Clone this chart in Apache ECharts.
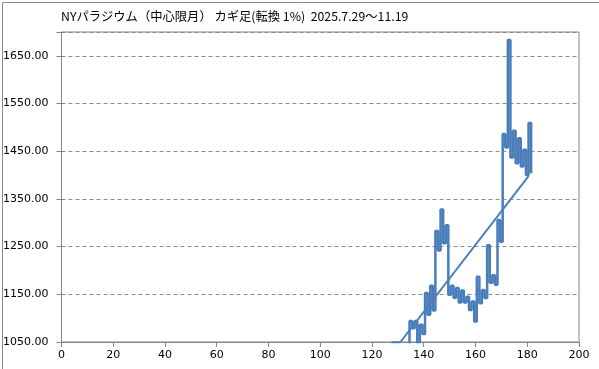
<!DOCTYPE html>
<html>
<head>
<meta charset="utf-8">
<script src="https://cdn.jsdelivr.net/npm/echarts@6/dist/echarts.min.js"></script>
<style>
html,body{margin:0;padding:0;background:#fff;}
#c{width:599px;height:369px;}
</style>
</head>
<body>
<div id="c"></div>
<script>
// Kagi chart reversal points (x position, price)
var kagiX = [127.5, 130.5, 134.5, 135.5, 136.5, 137.5, 138.5, 139.5, 140.5, 141.5, 142.5, 143.5, 144.5, 145.5, 146.5, 147.5, 148.5, 149.5,
             150.5, 151.5, 152.5, 153.5, 154.5, 155.5, 156.5, 157.5, 158.5, 159.5, 160.5, 161.5, 162.5, 163.5, 164.5, 165.5, 166.5, 167.5,
             168.5, 169.5, 170.5, 171.5, 172.5, 173.5, 174.5, 175.5, 176.5, 177.5, 178.5, 179.5, 180.5, 181.5];
var kagiY = [1049, 1030, 1094, 1079, 1094, 1045, 1086, 1067, 1153, 1107, 1168, 1116, 1283, 1242, 1328, 1257, 1295, 1149,
             1168, 1143, 1163, 1133, 1158, 1133, 1145, 1117, 1135, 1093, 1187, 1131, 1159, 1142, 1253, 1174, 1190, 1170,
             1306, 1260, 1486, 1458, 1683, 1437, 1493, 1425, 1477, 1418, 1453, 1400, 1509, 1404];
// Trend line end points
var trendX = [131, 180.5];
var trendY = [1050, 1398];
// Axes
var yTicks = [1050, 1150, 1250, 1350, 1450, 1550, 1650];
var titleText = 'NYパラジウム（中心限月） カギ足(転換 1%)  2025.7.29～11.19';

var kagiData = kagiX.map(function (x, i) { return [x, kagiY[i]]; });
var trendData = trendX.map(function (x, i) { return [x, trendY[i]]; });

var chart = echarts.init(document.getElementById('c'), null, {renderer: 'canvas'});
var axisGray = '#868686';
chart.setOption({
  animation: false,
  backgroundColor: '#ffffff',
  title: {
    text: titleText,
    left: 61,
    top: 10,
    padding: 0,
    textStyle: {fontFamily: 'Noto Sans CJK JP', fontSize: 12.3, fontWeight: 'normal', color: '#000'}
  },
  graphic: [{
    type: 'rect', left: 0, top: 0, silent: true,
    shape: {x: 0.5, y: 0.5, width: 598, height: 368},
    style: {fill: 'none', stroke: '#8a8a8a', lineWidth: 1}
  }],
  grid: {left: 59, right: 20, top: 32, bottom: 27, show: true, borderColor: axisGray, borderWidth: 1, containLabel: false},
  xAxis: {
    type: 'value', min: 0, max: 200, interval: 20,
    axisLine: {show: true, onZero: false, lineStyle: {color: axisGray, width: 1}},
    axisTick: {show: true, length: 5, lineStyle: {color: axisGray}},
    splitLine: {show: false},
    axisLabel: {fontFamily: 'DejaVu Sans', fontSize: 11, color: '#000', margin: 8}
  },
  yAxis: {
    type: 'value', min: 1050, max: 1700, interval: 100,
    axisLine: {show: true, onZero: false, lineStyle: {color: axisGray, width: 1}},
    axisTick: {show: true, length: 5, lineStyle: {color: axisGray}},
    splitLine: {show: true, lineStyle: {color: '#8c8c8c', width: 1, type: [4, 3]}},
    axisLabel: {
      fontFamily: 'DejaVu Sans', fontSize: 11, color: '#000', margin: 13,
      formatter: function (v) { return yTicks.indexOf(v) >= 0 ? v.toFixed(2) : ''; }
    }
  },
  series: [{
    type: 'line', data: kagiData, step: 'end', symbol: 'none', clip: true,
    lineStyle: {color: '#4a7ebb', width: 2.5}
  }, {
    type: 'line', data: trendData, symbol: 'none', clip: true,
    lineStyle: {color: '#4a7ebb', width: 2}
  }]
});
</script>
</body>
</html>
